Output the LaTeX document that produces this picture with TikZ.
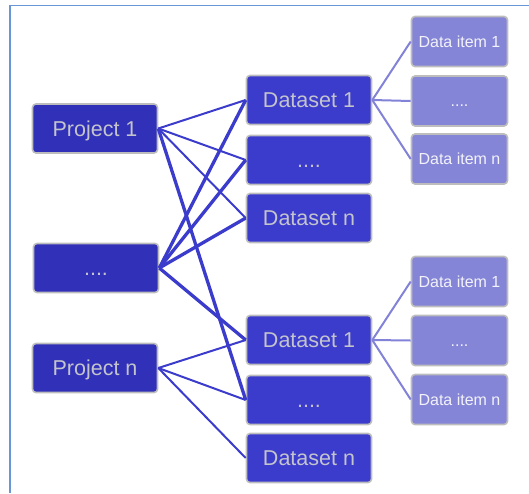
\documentclass[tikz,border=0pt]{standalone}
\usepackage{fontspec}
\setmainfont{Liberation Sans}
\definecolor{projfill}{HTML}{3030B8}
\definecolor{setfill}{HTML}{3B3BCC}
\definecolor{itemfill}{HTML}{8585D8}
\definecolor{edgegray}{HTML}{BDBDBD}
\definecolor{txtgray}{HTML}{C4C4CC}
\definecolor{itemtxt}{HTML}{F2F2F8}
\definecolor{framecol}{HTML}{6B96D6}
\definecolor{linkcol}{HTML}{3B3BCC}
\definecolor{itemlink}{HTML}{8282D8}
\tikzset{
  box/.style={draw=edgegray, line width=1.6pt, rounded corners=3.5pt, inner sep=0pt,
    font=\fontsize{21.5}{24}\selectfont, text=txtgray, text height=15.4pt, text depth=0pt},
  projbox/.style={box, fill=projfill, minimum width=125pt, minimum height=49pt},
  setbox/.style={box, fill=setfill, minimum width=125pt, minimum height=49pt},
  itembox/.style={box, fill=itemfill, minimum width=96pt, minimum height=50pt,
    font=\fontsize{16}{19}\selectfont, text=itemtxt, text height=11.5pt},
  thinlink/.style={draw=linkcol, line width=2pt},
  thicklink/.style={draw=linkcol, line width=3.3pt},
  itemedge/.style={draw=itemlink, line width=2pt},
}
\begin{document}
\begin{tikzpicture}[x=1pt, y=-1pt]
\useasboundingbox (0,0) rectangle (529,493);
% frame
\draw[framecol, line width=1.5pt] (10,493) -- (10,5.5) -- (529,5.5);

% projects
\node[projbox] (p1) at (95,128.5) {Project 1};
\node[projbox] (pm) at (96,268) {....};
\node[projbox] (pn) at (95,368) {Project n};

% datasets
\node[setbox] (a1) at (309,100) {Dataset 1};
\node[setbox] (am) at (309,160) {....};
\node[setbox] (an) at (309,218) {Dataset n};
\node[setbox] (b1) at (309,340) {Dataset 1};
\node[setbox] (bm) at (309,400) {....};
\node[setbox] (bn) at (309,458) {Dataset n};

% data items
\node[itembox] (ai1) at (459.5,41.5) {Data item 1};
\node[itembox] (aim) at (459.5,101) {....};
\node[itembox] (ain) at (459.5,159) {Data item n};
\node[itembox] (bi1) at (459.5,281.5) {Data item 1};
\node[itembox] (bim) at (459.5,340.5) {....};
\node[itembox] (bin) at (459.5,399.5) {Data item n};

% project to dataset links
\foreach \d in {a1,am,an} \draw[thinlink] (p1.east) -- (\d.west);
\draw[thicklink] (p1.east) -- (bm.west);
\foreach \d in {a1,am,an,b1} \draw[thicklink] (pm.east) -- (\d.west);
\foreach \d in {b1,bm,bn} \draw[thinlink] (pn.east) -- (\d.west);

% dataset to item links
\foreach \i in {ai1,aim,ain} \draw[itemedge] (a1.east) -- (\i.west);
\foreach \i in {bi1,bim,bin} \draw[itemedge] (b1.east) -- (\i.west);
\end{tikzpicture}
\end{document}
